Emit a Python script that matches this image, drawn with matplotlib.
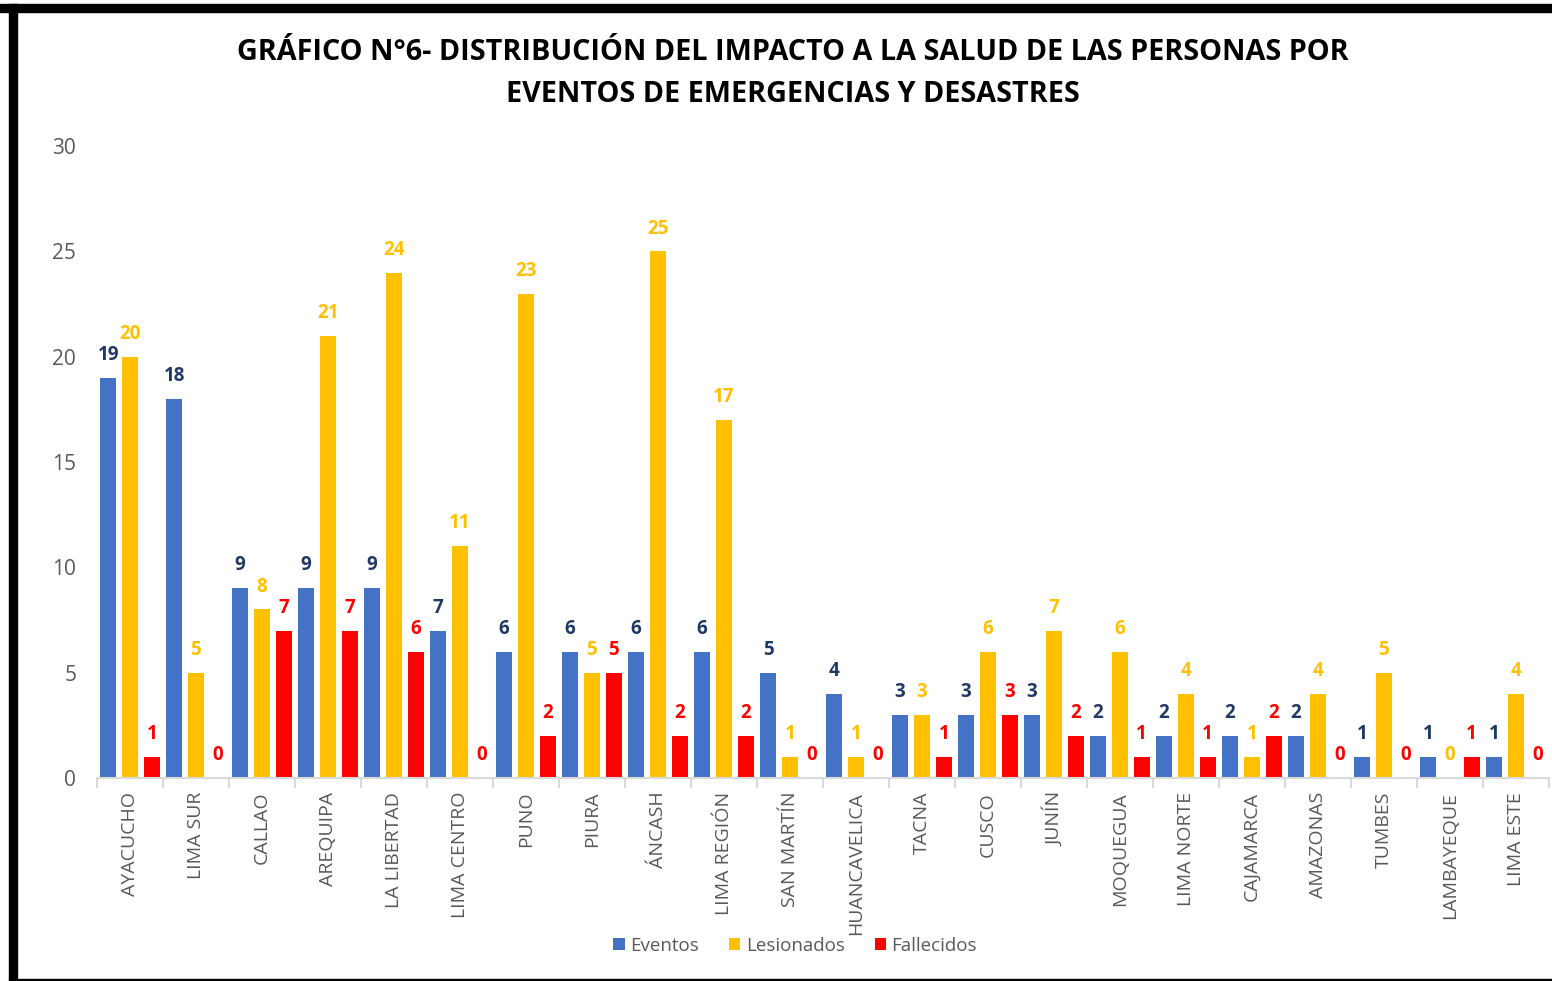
import matplotlib
matplotlib.use('Agg')
import matplotlib.pyplot as plt
import numpy as np
from matplotlib.patches import Rectangle

# datos del grafico
regiones = ['AYACUCHO', 'LIMA SUR', 'CALLAO', 'AREQUIPA', 'LA LIBERTAD', 'LIMA CENTRO',
            'PUNO', 'PIURA', 'ÁNCASH', 'LIMA REGIÓN', 'SAN MARTÍN', 'HUANCAVELICA',
            'TACNA', 'CUSCO', 'JUNÍN', 'MOQUEGUA', 'LIMA NORTE', 'CAJAMARCA',
            'AMAZONAS', 'TUMBES', 'LAMBAYEQUE', 'LIMA ESTE']
eventos = [19, 18, 9, 9, 9, 7, 6, 6, 6, 6, 5, 4, 3, 3, 3, 2, 2, 2, 2, 1, 1, 1]
lesionados = [20, 5, 8, 21, 24, 11, 23, 5, 25, 17, 1, 1, 3, 6, 7, 6, 4, 1, 4, 5, 0, 4]
fallecidos = [1, 0, 7, 7, 6, 0, 2, 5, 2, 2, 0, 0, 1, 3, 2, 1, 1, 2, 0, 0, 1, 0]

series = [('Eventos', eventos, '#4472C4', '#1F3864'),
          ('Lesionados', lesionados, '#FFC000', '#FFC000'),
          ('Fallecidos', fallecidos, '#FF0000', '#FF0000')]

plt.rcParams['font.family'] = ['Open Sans', 'DejaVu Sans']

fig = plt.figure(figsize=(15.52, 9.81), dpi=100)
ax = fig.add_axes([0.0625, 0.207, 0.9355, 0.644])

x = np.arange(len(regiones))
ancho = 0.24
desp = 0.33
for i, (nombre, vals, color, color_txt) in enumerate(series):
    pos = x + (i - 1) * desp
    ax.bar(pos, vals, width=ancho, color=color, label=nombre, zorder=2)
    for px, v in zip(pos, vals):
        ax.annotate(str(v), (px, v), xytext=(0, 16.5), textcoords='offset points',
                    ha='center', va='center', fontsize=13.5, fontweight='bold',
                    color=color_txt)

ax.set_xlim(-0.5, len(regiones) - 0.5)
ax.set_ylim(0, 30)
ax.set_yticks([0, 5, 10, 15, 20, 25, 30])
ax.tick_params(axis='y', length=0, labelsize=15, labelcolor='#595959', pad=15)

ax.set_xticks(x)
ax.set_xticklabels(regiones, rotation=90, fontsize=14, color='#595959')
ax.tick_params(axis='x', length=0, pad=10)
ax.set_xticks(np.arange(-0.5, len(regiones)), minor=True)
ax.tick_params(axis='x', which='minor', length=7, color='#D9D9D9', width=1.5)

for s in ['top', 'right', 'left']:
    ax.spines[s].set_visible(False)
ax.spines['bottom'].set_color('#D9D9D9')
ax.spines['bottom'].set_linewidth(1.5)

fig.text(0.511, 0.946, 'GRÁFICO N°6- DISTRIBUCIÓN DEL IMPACTO A LA SALUD DE LAS PERSONAS POR',
         ha='center', va='center', fontsize=20.7, fontweight='bold', color='black')
fig.text(0.511, 0.904, 'EVENTOS DE EMERGENCIAS Y DESASTRES',
         ha='center', va='center', fontsize=20.7, fontweight='bold', color='black')

leg = fig.legend(loc='center', bbox_to_anchor=(0.5124, 0.036),
                 ncol=3, frameon=False, fontsize=13.5, handlelength=0.6, handleheight=0.6,
                 handletextpad=0.3, columnspacing=1.6)
for t in leg.get_texts():
    t.set_color('#595959')

# marco negro de la captura
fig.patches.append(Rectangle((0, 1 - 12 / 981), 1, 8 / 981, transform=fig.transFigure,
                             color='black', zorder=10))
fig.patches.append(Rectangle((9 / 1552, 0), 8 / 1552, 1 - 4 / 981, transform=fig.transFigure,
                             color='black', zorder=10))
fig.patches.append(Rectangle((9 / 1552, 0), 1, 2.5 / 981, transform=fig.transFigure,
                             color='black', zorder=10))

fig.savefig('out.png', dpi=100)
